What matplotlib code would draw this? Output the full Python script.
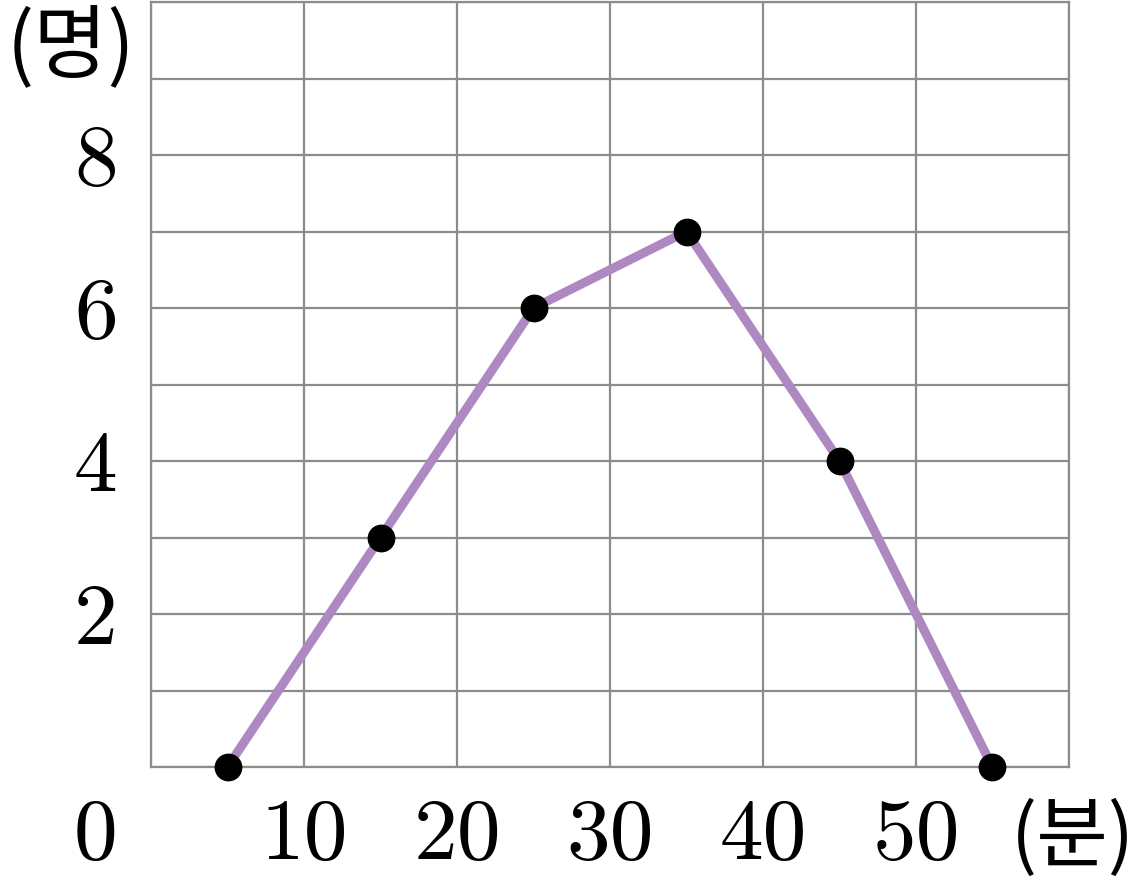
import matplotlib
matplotlib.use("Agg")
import matplotlib.pyplot as plt
from matplotlib.transforms import offset_copy

# data
x_values = [5, 15, 25, 35, 45, 55]
y_values = [0, 3, 6, 7, 4, 0]
x_ticks = [10, 20, 30, 40, 50]
x_tick_labels = ["10", "20", "30", "40", "50"]
y_ticks = [2, 4, 6, 8]
y_tick_labels = ["2", "4", "6", "8"]
y_unit = "(명)"
x_unit = "(분)"

W, H, DPI = 1139, 892, 100
fig = plt.figure(figsize=(W / DPI, H / DPI), dpi=DPI)
left, right, top, bottom = 151, 1069, 2, 767
ax = fig.add_axes([left / W, (H - bottom) / H, (right - left) / W, (bottom - top) / H])
ax.set_xlim(0, 60)
ax.set_ylim(0, 10)

grid_color = "#8c8c8c"
for gx in range(0, 61, 10):
    ax.axvline(gx, color=grid_color, lw=1.6, zorder=1)
for gy in range(0, 11):
    ax.axhline(gy, color=grid_color, lw=1.6, zorder=1)
for s in ax.spines.values():
    s.set_color(grid_color)
    s.set_linewidth(1.6)

ax.plot(x_values, y_values, color="#AE88C0", lw=6.5, zorder=3, clip_on=False,
        solid_capstyle="butt")
ax.plot(x_values, y_values, "o", color="black", ms=19, zorder=4, clip_on=False)

num_font = dict(family="cmr10", size=63)
ax.set_xticks(x_ticks)
ax.set_xticklabels(x_tick_labels, fontdict=num_font)
ax.set_yticks(y_ticks)
ax.set_yticklabels(y_tick_labels, fontdict=num_font)
ax.tick_params(axis="x", length=0, pad=23)
ax.tick_params(axis="y", length=0, pad=24)

t0 = offset_copy(ax.transData, fig=fig, x=-34, y=-70, units="dots")
ax.text(0, 0, "0", transform=t0, ha="right", va="center", **num_font)

tx = offset_copy(ax.transData, fig=fig, x=-58, y=-72, units="dots")
ax.text(60, 0, x_unit, transform=tx, ha="left", va="center",
        family=["Noto Sans CJK KR", "DejaVu Sans"], size=56)

ty = offset_copy(ax.transData, fig=fig, x=-80, y=-46, units="dots")
ax.text(0, 10, y_unit, transform=ty, ha="center", va="center",
        family=["Noto Sans CJK KR", "DejaVu Sans"], size=58)

fig.savefig("out.png", dpi=DPI)
